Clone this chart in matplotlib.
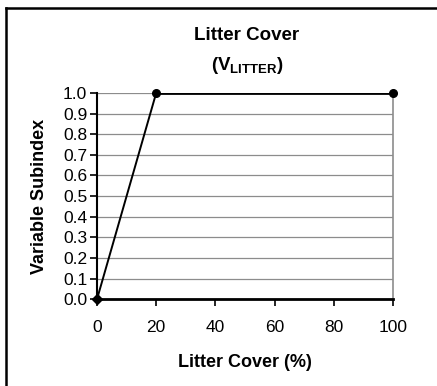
import matplotlib
matplotlib.use("Agg")
import matplotlib.pyplot as plt
from matplotlib.lines import Line2D

plt.rcParams["font.family"] = ["Liberation Sans", "DejaVu Sans"]
plt.rcParams["mathtext.fontset"] = "custom"
plt.rcParams["mathtext.rm"] = "Liberation Sans"
plt.rcParams["mathtext.bf"] = "Liberation Sans:bold"

cover = [0, 20, 100]
subindex = [0.0, 1.0, 1.0]
xticks = [0, 20, 40, 60, 80, 100]
yticks = [0.0, 0.1, 0.2, 0.3, 0.4, 0.5, 0.6, 0.7, 0.8, 0.9, 1.0]

fig = plt.figure(figsize=(4.37, 3.86), dpi=100)
ax = fig.add_axes([0.222, 0.225, 0.677, 0.534])

ax.set_axisbelow(True)
ax.yaxis.grid(True, color="#8c8c8c", lw=0.9)
ax.plot(cover[:2], subindex[:2], color="black", lw=1.4, zorder=3)
ax.plot(cover[1:], subindex[1:], color="black", lw=2.0, zorder=3)
ax.plot(cover[:1], subindex[:1], ls="none", marker="D", ms=5.5, color="black", zorder=4, clip_on=False)
ax.plot(cover[1:], subindex[1:], ls="none", marker="o", ms=5.5, color="black", zorder=4, clip_on=False)

ax.set_xlim(0, 100)
ax.set_ylim(0, 1.0)
ax.set_xticks(xticks)
ax.set_yticks(yticks)
ax.set_yticklabels([f"{v:.1f}" for v in yticks])
ax.tick_params(axis="both", direction="out", length=5, width=1.2, labelsize=12.5, color="black")
ax.tick_params(axis="x", pad=10)
ax.tick_params(axis="y", pad=2)

ax.spines["top"].set_visible(False)
ax.spines["right"].set_color("#8c8c8c")
ax.spines["right"].set_linewidth(1.2)
ax.spines["left"].set_linewidth(1.5)
ax.spines["bottom"].set_linewidth(2.0)

ax.set_xlabel("Litter Cover (%)", fontsize=13, fontweight="bold", labelpad=14)
ax.set_ylabel("Variable Subindex", fontsize=13, fontweight="bold", labelpad=11)

fig.text(0.565, 0.908, "Litter Cover", ha="center", va="center", fontsize=13.5, fontweight="bold")
fig.text(0.565, 0.83, r"($\mathbf{V}_{\mathbf{LITTER}}$)", ha="center", va="center", fontsize=13.5, fontweight="bold")

# chart frame: only the top and left edges fall inside the picture
y_top = 1 - 7.5 / 386
x_left = 6 / 437
fig.add_artist(Line2D([x_left, 1], [y_top, y_top], transform=fig.transFigure, color="black", lw=1.8))
fig.add_artist(Line2D([x_left, x_left], [0, y_top], transform=fig.transFigure, color="black", lw=1.8))

fig.savefig("out.png", dpi=100)
